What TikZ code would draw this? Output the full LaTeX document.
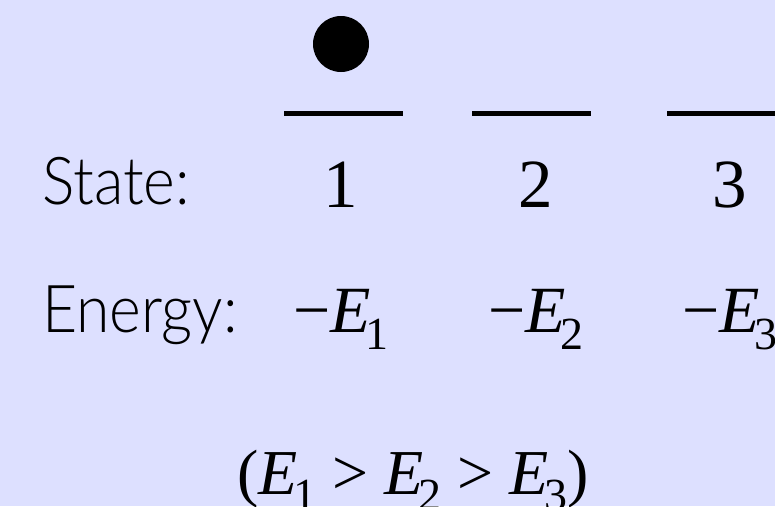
\documentclass[tikz,border=0pt]{standalone}
\usepackage{fontspec}
\setmainfont{Liberation Serif}
\newfontfamily\labfont{Lato Light}[FakeStretch=0.92]
\newfontfamily\numfont{Liberation Serif}
\definecolor{slidebg}{RGB}{221,224,255}
\newcommand\Esub[1]{{\itshape E}\kern-0.07em\raisebox{-0.26em}{\fontsize{46}{46}\selectfont #1}}
\tikzset{
  rowlabel/.style={anchor=base west, inner sep=0pt},
  statenum/.style={anchor=base, inner sep=0pt},
  energy/.style={anchor=base, inner sep=0pt},
  levelline/.style={line width=5.5pt}
}
\begin{document}
\begin{tikzpicture}[x=1pt,y=-1pt]
  % Background and frame
  \fill[slidebg] (0,0) rectangle (775,506);
  \useasboundingbox (0,0) rectangle (775,506);
  \clip (0,0) rectangle (775,506);
  % Row labels
  \node[rowlabel] (statelab) at (42,204) {\labfont\fontsize{66}{70}\selectfont State:};
  \node[rowlabel] (energylab) at (42,332) {\labfont\fontsize{66}{70}\selectfont Energy:};
  % Levels, state numbers and energies
  \foreach \n/\xl/\xc in {1/284/341, 2/472/536, 3/667/730} {
    \draw[levelline] (\xl,113.5) -- ++(119,0);
    \node[statenum] (s\n) at (\xc,207) {\numfont\fontsize{69}{72}\selectfont \n};
    \node[energy] (e\n) at (\xc,332) {\numfont\fontsize{66}{70}\selectfont −\Esub{\n}};
  }
  % Particle in state 1
  \fill (341,44) circle (28);
  % Ordering of energies
  \node[energy] (order) at (413,494) {\numfont\fontsize{64}{66}\selectfont (\Esub{1} > \Esub{2} > \Esub{3})};
\end{tikzpicture}
\end{document}
